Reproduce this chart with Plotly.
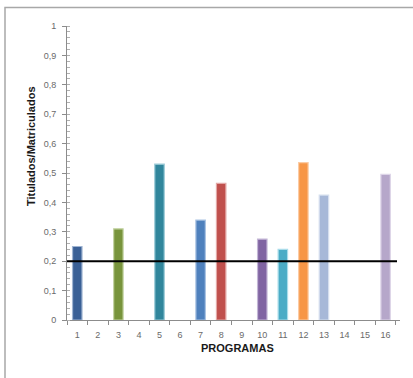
import plotly.graph_objects as go

# Programs on the x axis and the graduates/enrolled ratio for each
programas = [str(i) for i in range(1, 17)]
ratio = [0.25, None, 0.31, None, 0.53, None, 0.34, 0.465, None, 0.275, 0.24, 0.535, 0.425, None, None, 0.495]
colores = ["#3A6096", None, "#78943C", None, "#31869C", None, "#4F81BD", "#C0504D", None,
           "#8064A2", "#4BACC6", "#F79646", "#A7B8D8", None, None, "#B6A7CA"]
bordes = ["#9FB4D2", None, "#C3D3A3", None, "#9CCBD8", None, "#A9C3E3", "#E3A8A6", None,
          "#C3B6D6", "#A9DCEA", "#FBCBA3", "#D6DFEE", None, None, "#DDD5E8"]

# Reference threshold line
umbral = 0.2

y_ticks = [0, 0.1, 0.2, 0.3, 0.4, 0.5, 0.6, 0.7, 0.8, 0.9, 1]
y_labels = ["0", "0,1", "0,2", "0,3", "0,4", "0,5", "0,6", "0,7", "0,8", "0,9", "1"]

W, H = 413, 378
L, R, T, B = 67, 13, 25.5, 57.5
pw, ph = W - L - R, H - T - B

fig = go.Figure()
fig.add_trace(go.Bar(
    x=programas,
    y=[v if v is not None else 0 for v in ratio],
    marker=dict(color=[c or "rgba(0,0,0,0)" for c in colores],
                line=dict(color=[c or "rgba(0,0,0,0)" for c in bordes], width=1.2)),
    width=0.46,
    hoverinfo="x+y",
))

tick_font = dict(family="Liberation Sans, Arial", size=9, color="#6a6a6a")

fig.update_layout(
    width=W, height=H,
    margin=dict(l=L, r=R, t=T, b=B),
    paper_bgcolor="white", plot_bgcolor="white",
    showlegend=False,
    bargap=0.5,
    xaxis=dict(
        type="category",
        showline=True, linecolor="#8c8c8c", linewidth=1,
        ticks="outside", ticklen=4, tickcolor="#8c8c8c",
        tickson="boundaries",
        showgrid=False, zeroline=False,
        tickfont=tick_font,
        ticklabelstandoff=6,
        range=[-0.5, 15.7],
    ),
    yaxis=dict(
        range=[0, 1],
        tickvals=y_ticks, ticktext=y_labels,
        showline=True, linecolor="#8c8c8c", linewidth=1,
        ticks="outside", ticklen=4, tickcolor="#8c8c8c",
        minor=dict(ticks="inside", ticklen=3, dtick=0.02, tickcolor="#b0b0b0", showgrid=False),
        showgrid=False, zeroline=False,
        tickfont=tick_font,
        ticklabelstandoff=4,
    ),
    annotations=[
        dict(text="<b>PROGRAMAS</b>", xref="paper", yref="paper",
             x=(237 - L) / pw, y=(H - B - 349) / ph,
             xanchor="center", yanchor="middle",
             showarrow=False, font=dict(family="Liberation Sans, Arial", size=11, color="#1a1a1a")),
        dict(text="<b>Titulados/Matriculados</b>", xref="paper", yref="paper",
             x=(31 - L) / pw, y=(H - B - 146) / ph, textangle=-90,
             xanchor="center", yanchor="middle",
             showarrow=False, font=dict(family="Liberation Sans, Arial", size=11, color="#1a1a1a")),
    ],
    shapes=[
        # threshold line
        dict(type="line", xref="paper", yref="y",
             x0=0, x1=(397 - L) / pw, y0=umbral, y1=umbral,
             line=dict(color="black", width=2)),
        # outer chart frame
        dict(type="rect", xref="paper", yref="paper",
             x0=(5 - L) / pw, x1=(420 - L) / pw,
             y0=(H - B - 390) / ph, y1=(H - B - 7) / ph,
             line=dict(color="#a8a8a8", width=1.5), layer="below"),
    ],
)

fig.write_html("out.html")
